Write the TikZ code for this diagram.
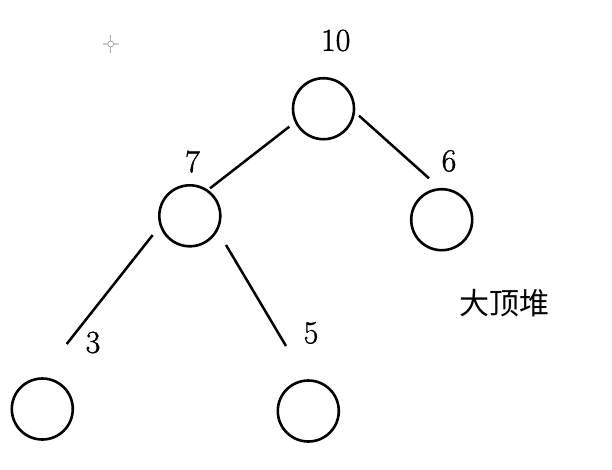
\documentclass[tikz,border=0pt]{standalone}
\usepackage{fontspec}
\newfontfamily\cjk{Noto Sans CJK SC}
\newfontfamily\digitfont{Latin Modern Roman}[FakeBold=1.2]
\begin{document}
\begin{tikzpicture}[x=1pt,y=-1pt,
  heapnode/.style={circle,draw=black,line width=2.6pt,minimum size=61pt,inner sep=0pt},
  keylabel/.style={inner sep=0pt,font=\digitfont\fontsize{32}{36}\selectfont},
  edgeline/.style={line width=2.5pt,draw=black},
  marker/.style={line width=1.2pt,draw=gray!70}]
\useasboundingbox (0,0) rectangle (612,469);
% circles
\node[heapnode] (root) at (323.5,108.7) {};
\node[heapnode] (n7) at (189.8,215.8) {};
\node[heapnode] (n6) at (441.7,219.7) {};
\node[heapnode] (n3) at (42.3,409) {};
\node[heapnode] (n5) at (308.3,411) {};
% labels
\node[keylabel] (l10) at (335.7,40.5) {10};
\node[keylabel] (l7) at (192.5,161.7) {7};
\node[keylabel] (l6) at (449,161) {6};
\node[keylabel] (l3) at (93,342.5) {3};
\node[keylabel] (l5) at (311,333) {5};
\node[inner sep=0pt,font=\cjk\fontsize{30}{36}\selectfont] (title) at (504,303) {大顶堆};
% connector end points
\coordinate (a1) at (289.3,126.7); \coordinate (b1) at (210,188.3);
\coordinate (a2) at (359,115.7);   \coordinate (b2) at (429,178.3);
\coordinate (a3) at (152.7,235);   \coordinate (b3) at (66.7,344);
\coordinate (a4) at (226,245);     \coordinate (b4) at (286,346);
\draw[edgeline] (a1) -- (b1);
\draw[edgeline] (a2) -- (b2);
\draw[edgeline] (a3) -- (b3);
\draw[edgeline] (a4) -- (b4);
% small cursor mark
\coordinate (m) at (110.7,44);
\draw[marker] ([yshift=-9pt]m) -- ([yshift=-3pt]m);
\draw[marker] ([yshift=3pt]m) -- ([yshift=9pt]m);
\draw[marker,draw=gray!40] ([xshift=-8pt]m) -- ([xshift=-3pt]m);
\draw[marker,draw=gray!40] ([xshift=3pt]m) -- ([xshift=8pt]m);
\draw[marker,line width=0.8pt] (m) circle (3pt);
\end{tikzpicture}
\end{document}
